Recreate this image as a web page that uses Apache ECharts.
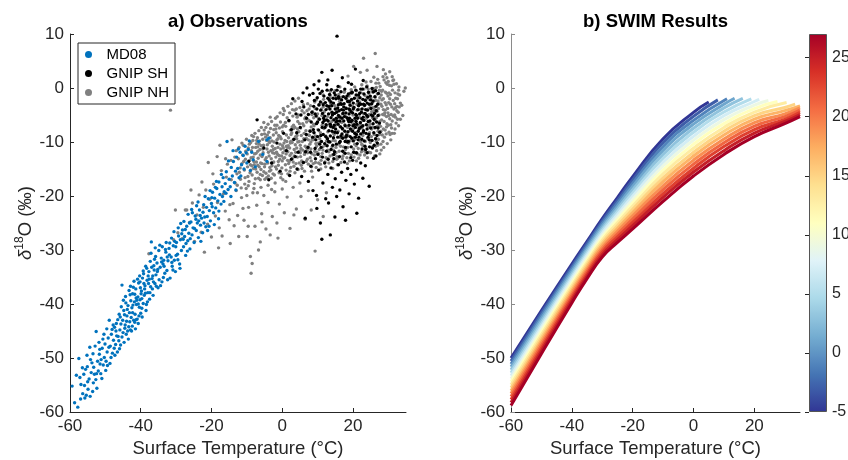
<!DOCTYPE html>
<html><head><meta charset="utf-8">
<script src="https://cdn.jsdelivr.net/npm/echarts@6/dist/echarts.min.js"></script>
<style>html,body{margin:0;padding:0;background:#fff}#c{width:848px;height:460px}</style>
</head><body><div id="c"></div>
<script>
// ---------- DATA ----------
const md08 = [[-59.4,-55.2],[-58.7,-58.3],[-57.8,-59.1],[-57.5,-50.1],[-58.2,-53.2],[-57.2,-53.6],[-56.9,-54.9],[-56.4,-56.6],[-55.8,-57.4],[-55.4,-56.9],[-55.9,-55.1],[-55.6,-52.1],[-55.1,-51.6],[-54.6,-53.9],[-54.9,-55.8],[-54.3,-57.1],[-54.0,-52.7],[-53.8,-50.9],[-53.4,-54.6],[-53.1,-53.0],[-52.9,-47.8],[-52.6,-45.1],[-52.2,-50.6],[-52.0,-52.4],[-51.7,-49.3],[-51.5,-51.1],[-51.2,-50.3],[-50.9,-48.2],[-50.6,-51.3],[-50.3,-49.9],[-50.1,-47.4],[-49.8,-50.6],[-49.5,-48.9],[-49.2,-46.3],[-48.9,-43.0],[-48.6,-47.8],[-48.3,-45.6],[-48.0,-49.1],[-47.7,-46.7],[-47.4,-44.3],[-47.1,-47.5],[-46.8,-45.9],[-46.5,-42.9],[-46.2,-46.8],[-45.9,-44.8],[-45.6,-43.7],[-45.3,-46.1],[-45.0,-45.3],[-44.8,-41.2],[-44.5,-44.5],[-44.2,-39.8],[-44.0,-43.2],[-43.7,-45.0],[-43.4,-44.2],[-43.2,-41.6],[-43.0,-38.3],[-42.7,-42.5],[-42.5,-40.7],[-42.3,-38.1],[-42.0,-43.0],[-41.8,-39.6],[-41.6,-41.9],[-41.4,-37.2],[-41.2,-40.1],[-41.0,-42.8],[-40.8,-38.7],[-40.6,-36.1],[-40.4,-40.6],[-40.2,-39.2],[-40.0,-41.7],[-39.8,-37.6],[-39.5,-35.2],[-39.3,-39.9],[-39.0,-38.4],[-38.8,-36.6],[-38.5,-41.2],[-38.2,-35.6],[-38.0,-37.9],[-37.7,-34.0],[-37.5,-39.1],[-37.2,-36.8],[-37.0,-28.5],[-36.8,-35.3],[-36.5,-38.4],[-36.2,-33.7],[-36.0,-36.2],[-35.7,-34.6],[-35.4,-32.4],[-35.1,-37.0],[-34.8,-35.5],[-34.5,-33.2],[-34.2,-31.5],[-34.0,-35.9],[-33.7,-32.6],[-33.5,-31.9],[-33.2,-34.3],[-32.9,-30.4],[-32.6,-33.8],[-32.3,-32.0],[-32.0,-29.7],[-31.7,-35.2],[-31.4,-31.3],[-31.1,-33.0],[-30.8,-29.2],[-30.5,-31.9],[-30.2,-34.0],[-29.9,-28.6],[-29.6,-30.8],[-29.3,-27.4],[-29.0,-32.6],[-28.8,-28.1],[-28.5,-30.1],[-28.2,-26.3],[-27.9,-29.4],[-27.6,-27.5],[-27.3,-31.0],[-27.0,-25.6],[-26.7,-28.3],[-26.4,-26.9],[-26.1,-29.8],[-25.8,-24.8],[-25.5,-27.2],[-25.2,-25.9],[-24.9,-28.6],[-24.6,-23.7],[-24.3,-26.4],[-24.0,-25.0],[-23.7,-27.7],[-23.4,-22.6],[-23.1,-25.4],[-22.8,-24.1],[-22.5,-26.8],[-22.2,-21.6],[-21.9,-23.9],[-21.6,-25.7],[-21.2,-23.8],[-20.9,-20.5],[-20.6,-22.7],[-20.3,-24.6],[-20.0,-21.4],[-19.7,-19.3],[-19.4,-23.1],[-19.1,-20.4],[-18.8,-22.2],[-18.5,-18.6],[-18.2,-20.9],[-17.9,-17.4],[-17.6,-19.7],[-17.3,-21.5],[-17.0,-18.3],[-16.7,-16.6],[-16.4,-19.2],[-16.1,-17.7],[-15.8,-15.5],[-15.6,-9.9],[-15.3,-18.8],[-15.0,-16.9],[-14.7,-18.3],[-14.4,-14.7],[-14.1,-16.3],[-13.8,-13.6],[-13.5,-17.5],[-13.2,-15.4],[-12.9,-12.8],[-12.6,-14.9],[-12.2,-16.6],[-11.9,-11.9],[-11.5,-14.2],[-11.0,-12.5],[-10.5,-10.8],[-10.0,-13.9],[-9.6,-11.4],[-9.0,-15.3],[-8.2,-13.3],[-7.6,-14.6],[-6.7,-9.9],[-4.3,-13.6],[-3.8,-9.3],[-4.3,-9.6],
[-44.6,-42.0],[-44.1,-45.6],[-43.6,-40.3],[-43.1,-43.3],[-42.8,-39.4],[-42.4,-44.1],[-42.1,-36.9],[-41.7,-43.4],[-41.3,-38.9],[-40.9,-35.4],[-40.5,-42.2],[-40.1,-37.0],[-39.7,-40.8],[-39.2,-34.4],[-38.7,-38.0],[-38.3,-33.4],[-37.8,-36.2],[-37.3,-32.1],[-36.6,-34.8],[-36.1,-31.7],[-35.6,-36.7],[-45.3,-36.5],[-46.0,-48.3],[-47.3,-49.5],[-48.7,-51.0],[-49.9,-52.3],[-51.0,-53.8],[-52.4,-55.6],[-53.6,-56.2],[-45.7,-47.6],
[-56.5,-51.8],[-55.2,-49.5],[-54.4,-48.0],[-53.3,-51.7],[-52.7,-54.0],[-51.8,-47.1],[-51.3,-52.9],[-50.4,-45.6],[-49.6,-44.6],[-49.0,-48.0],[-48.4,-49.9],[-47.8,-43.9],[-47.0,-45.0],[-46.6,-48.9],[-46.1,-41.9],[-45.5,-40.5],[-45.1,-43.0],[-44.7,-47.1],[-44.3,-38.6],[-43.9,-42.2],[-43.5,-46.5],[-42.9,-36.7],[-42.6,-45.0],[-42.2,-40.2],[-41.9,-35.8],[-41.5,-44.6],[-41.1,-39.3],[-40.7,-43.6],[-40.3,-34.8],[-39.9,-38.1],[-39.6,-42.4],[-39.1,-36.2],[-38.6,-33.0],[-38.1,-39.6],[-37.6,-35.4],[-37.1,-30.6],[-36.7,-37.2],[-36.3,-32.9],[-35.9,-29.6],[-35.3,-34.0],[-34.9,-30.1],[-34.4,-36.6],[-33.9,-29.4],[-33.4,-33.0],[-32.8,-28.6],[-32.4,-35.5],[-31.9,-30.9],[-31.3,-27.8],[-30.9,-33.7],[-30.4,-28.4],[-30.0,-31.0],[-29.4,-25.9],[-28.9,-33.4],[-28.4,-27.0],[-27.8,-24.7],[-27.2,-28.8],[-26.6,-23.4],[-26.0,-27.9],[-25.4,-23.1],[-24.8,-26.0],[-24.2,-21.8],[-23.6,-24.6],[-23.0,-28.4],[-22.4,-23.0],[-21.8,-20.1],[-21.1,-26.4],[-20.4,-19.0],[-19.8,-22.0],[-19.2,-25.3],[-18.6,-17.3],[-17.9,-22.8],[-17.2,-16.0],[-16.5,-21.0],[-15.9,-19.5],[-15.2,-13.5],[-14.5,-20.1],[-13.9,-11.6],[-13.1,-18.9],[-12.4,-11.3],[-11.7,-16.3],[-10.8,-15.0],[-10.2,-12.0],[-9.3,-9.8],[-8.6,-11.9],[-5.5,-12.3],
[-57.0,-57.6],[-56.1,-53.0],[-55.0,-54.4],[-54.2,-50.3],[-53.5,-49.2],[-52.5,-52.9],[-51.6,-48.4],[-50.7,-46.5],[-49.4,-51.4],[-48.1,-44.7],[-47.5,-48.2],[-46.9,-43.6],[-46.4,-46.0],[-45.8,-42.4],[-44.9,-39.3],[-44.4,-43.9],[-43.8,-41.0],[-43.3,-37.5],[-42.9,-44.8],[-42.3,-41.6],[-41.7,-38.2],[-41.3,-42.9],[-40.7,-40.0],[-40.2,-35.9],[-39.7,-39.0],[-39.3,-33.9],[-38.9,-37.2],[-38.4,-40.1],[-37.9,-34.8],[-37.4,-37.9],[-36.9,-33.2],[-36.4,-35.9],[-35.8,-31.2],[-35.2,-33.6],[-34.6,-29.1],[-34.1,-32.2],[-33.6,-35.1],[-33.0,-29.9],[-32.5,-31.3],[-31.8,-28.7],[-31.2,-32.3],[-30.6,-26.6],[-30.1,-29.4],[-29.5,-31.8],[-28.7,-25.1],[-28.0,-28.0],[-27.4,-26.2],[-26.8,-30.2],[-26.2,-25.0],[-25.6,-22.5],[-24.4,-24.3],[-23.8,-21.1],[-23.2,-23.6],[-22.1,-25.0],[-21.4,-22.1],[-20.7,-25.6],[-19.9,-20.3],[-18.9,-18.4],[-18.0,-24.2],[-16.9,-20.1]];

const gnipSH = [[8.2,-6.3],[8.6,-9.1],[8.9,-3.4],[9.3,-11.2],[9.6,-5.2],[9.9,-1.8],[10.3,-7.8],[10.6,-10.4],[10.9,-4.1],[11.3,-0.6],[11.6,-8.6],[11.9,-6.0],[12.2,-2.7],[12.5,-11.7],[12.8,-9.4],[13.1,-4.8],[13.4,-1.2],[13.7,-7.1],[14.0,-3.3],[14.3,-10.6],[14.6,-5.9],[14.9,-8.2],[15.2,-2.0],[15.5,-0.4],[15.8,-6.7],[16.1,-4.2],[16.4,-9.9],[16.7,-3.0],[17.0,-7.5],[17.3,-1.6],[17.6,-5.3],[17.9,-11.0],[18.2,-8.8],[18.5,-2.5],[18.8,-6.2],[19.1,-4.0],[19.4,-0.9],[19.7,-9.3],[20.0,-7.0],[20.3,-3.6],[20.6,-5.6],[20.9,-1.3],[21.2,-10.3],[21.5,-8.0],[21.8,-2.9],[22.1,-6.4],[22.4,-4.5],[22.7,-0.2],[23.0,-7.9],[23.3,-3.2],[23.6,-11.4],[23.9,-5.1],[24.2,-1.7],[24.5,-8.6],[24.8,-6.1],[25.1,-3.8],[25.4,-9.7],[25.7,-2.4],[26.0,-5.8],[26.3,-7.3],[26.6,-4.2],[26.9,-10.2],[27.2,-1.0],[27.5,-6.5],
[8.4,-4.5],[8.8,-7.7],[9.1,-2.3],[9.5,-9.6],[9.8,-3.9],[10.1,-12.3],[10.5,-5.8],[10.8,-2.6],[11.1,-9.9],[11.4,-4.7],[11.8,-1.5],[12.1,-7.3],[12.4,-4.0],[12.7,-10.7],[13.0,-6.1],[13.3,-2.2],[13.6,-8.9],[13.9,-0.3],[14.2,-5.0],[14.5,-2.8],[14.8,-11.8],[15.1,-7.6],[15.4,-4.5],[15.7,-9.1],[16.0,-1.9],[16.3,-6.1],[16.6,-0.7],[16.9,-8.5],[17.2,-4.7],[17.5,-2.9],[17.8,-7.0],[18.1,-3.8],[18.4,-10.0],[18.7,-1.1],[19.0,-5.6],[19.3,-7.6],[19.6,-2.1],[19.9,-4.6],[20.2,-11.9],[20.5,-8.4],[20.8,-0.4],[21.1,-6.7],[21.4,-4.0],[21.7,-9.1],[22.0,-1.8],[22.3,-7.2],[22.6,-3.9],[22.9,-5.4],[23.2,-9.8],[23.5,-2.3],[23.8,-6.8],[24.1,-4.1],[24.4,-0.8],[24.7,-10.9],[25.0,-7.4],[25.3,-2.9],[25.6,-5.2],[25.9,-8.3],[26.2,-1.6],[26.5,-3.4],[26.8,-8.8],[27.1,-5.1],
[12.0,-5.2],[12.6,-3.3],[13.2,-7.9],[13.8,-5.5],[14.4,-1.9],[15.0,-3.9],[15.6,-8.3],[16.2,-5.4],[16.8,-2.2],[17.4,-6.1],[18.0,-4.6],[18.6,-8.1],[19.2,-3.2],[19.8,-6.0],[20.4,-1.9],[21.0,-5.1],[21.6,-3.3],[22.2,-8.5],[22.8,-2.1],[23.4,-4.7],[24.0,-7.6],[24.6,-3.0],[13.5,-3.9],[14.7,-6.9],[15.9,-3.1],[17.1,-9.3],[18.3,-5.5],[19.5,-4.4],[20.7,-7.3],[21.9,-4.8],[23.1,-6.0],[16.5,-7.2],[17.7,-0.2],[19.0,-2.5],[20.1,-9.8],[21.3,-2.4],[14.1,-8.0],[15.3,-5.6],[22.5,-5.7],[18.9,-6.9],
[0.4,-8.4],[1.2,-11.6],[1.9,-6.0],[2.6,-13.2],[3.3,-9.5],[3.9,-4.8],[4.5,-11.9],[5.1,-7.3],[5.6,-2.5],[6.0,-13.8],[6.4,-9.6],[6.9,-5.6],[7.3,-11.0],[7.7,-1.3],[7.9,-8.0],[3.0,-2.0],[5.9,-0.9],[7.0,0.0],[10.4,1.3],[11.2,2.9],[14.1,3.3],[20.7,3.5],[15.5,9.6],[12.9,1.5],[17.0,1.9],[18.7,1.0],[22.9,1.4],[9.0,0.6],[-1.5,-10.2],[-3.0,-13.9],[-5.2,-11.1],[-7.1,-5.9],[-9.5,-13.6],[-3.8,-17.0],[-0.6,-15.4],[2.1,-16.2],[4.2,-15.0],
[5.5,-16.4],[6.5,-24.1],[7.4,-17.3],[8.1,-14.5],[8.7,-19.0],[9.7,-19.9],[9.8,-22.3],[10.3,-15.2],[10.8,-25.0],[11.2,-28.0],[11.5,-17.6],[12.0,-13.9],[12.3,-20.5],[12.9,-16.0],[13.1,-21.3],[13.6,-27.2],[13.8,-14.8],[14.2,-18.4],[14.6,-13.1],[15.0,-16.8],[15.4,-20.1],[15.9,-14.2],[16.3,-18.9],[16.8,-15.6],[17.2,-22.0],[17.6,-13.7],[18.0,-17.1],[18.5,-14.9],[18.9,-19.6],[19.4,-16.0],[19.9,-13.4],[20.4,-17.8],[21.0,-15.2],[21.6,-20.4],[22.2,-13.9],[22.8,-16.7],[23.5,-14.4],[24.0,-12.0],[25.8,-13.0],[24.6,-18.2],[26.5,-12.6],[14.9,-23.9],[17.9,-24.5],[21.1,-23.2],
[9.0,-8.3],[9.7,-6.6],[10.4,-3.1],[11.0,-11.0],[11.7,-5.6],[12.3,-9.0],[12.9,-1.9],[13.5,-10.0],[14.1,-4.5],[14.7,-0.9],[15.3,-10.4],[15.9,-5.1],[16.5,-2.9],[17.1,-11.7],[17.7,-8.0],[18.3,-1.5],[18.9,-4.8],[19.5,-10.9],[20.1,-3.9],[20.7,-9.1],[21.3,-5.6],[21.9,-0.9],[22.5,-9.5],[23.1,-1.1],[23.7,-8.4],[24.3,-6.2],[24.9,-1.5],[25.5,-11.1],[26.1,-4.7],[26.7,-6.3],
[10.0,-9.0],[10.7,-1.0],[11.3,-7.3],[12.0,-10.3],[12.6,-5.9],[13.2,-3.4],[13.8,-11.4],[14.4,-7.3],[15.0,-1.3],[15.6,-6.1],[16.2,-10.1],[16.8,-4.0],[17.4,-3.5],[18.0,-9.1],[18.6,-5.9],[19.2,-9.0],[19.8,-0.8],[20.4,-6.8],[21.0,-8.6],[21.6,-1.3],[22.2,-3.0],[22.8,-7.0],[23.4,-10.8],[24.0,-2.8],[24.6,-9.6],[25.2,-5.0],[25.8,-0.7],[26.4,-9.4],[27.0,-3.0],[27.6,-8.2],
[11.4,-12.8],[13.0,-13.2],[14.6,-12.3],[16.2,-12.7],[17.8,-12.1],[19.4,-12.9],[21.0,-12.0],[22.6,-11.3],[9.4,-13.1],[8.0,-11.9],[6.8,-8.6],[6.1,-3.5],[5.3,-5.0],[4.1,-8.3],[2.6,-7.7],[7.4,-4.9],[10.2,-0.2],[12.6,0.6],[15.8,0.3],[19.6,0.7],[23.9,0.2],[25.4,-0.1],[8.7,-1.0],[6.6,-11.8],[3.7,-12.7],
[9.3,-4.8],[10.0,-6.3],[10.9,-8.8],[11.6,-3.1],[12.4,-6.8],[13.1,-9.9],[13.8,-2.6],[14.5,-9.2],[15.2,-6.3],[15.9,-1.6],[16.6,-8.9],[17.3,-4.1],[18.0,-1.9],[18.7,-9.9],[19.4,-6.2],[20.1,-2.8],[20.8,-4.9],[21.5,-9.6],[22.2,-0.2],[22.9,-8.2],[23.6,-4.0],[24.3,-9.1],[25.0,-2.2],[25.7,-6.6],[26.4,-0.5],[27.1,-7.4],[12.7,-0.4],[14.8,-4.7],[16.9,-5.6],[18.9,-3.9],[20.9,-6.2],[23.0,-3.0],[11.5,-6.4],[13.6,-6.7],[15.7,-3.7],[17.8,-9.9],[19.9,-8.0],[21.8,-7.5],[24.2,-5.3],[26.0,-10.6]];

const gnipNH = [[-37.7,-30.7],[-31.6,-4.1],[-30.7,-28.1],[-30.2,-22.6],[-29.5,-26.8],[-28.3,-27.9],[-27.4,-22.6],[-27.0,-22.6],[-26.2,-24.9],[-25.4,-21.3],[-24.8,-28.4],[-24.1,-23.5],[-23.5,-19.8],[-22.9,-26.7],[-22.3,-22.1],[-21.6,-18.9],[-21.1,-25.2],[-20.5,-20.6],[-20.0,-27.6],[-19.4,-17.8],[-18.9,-23.7],[-18.4,-12.7],[-18.3,-21.2],[-17.8,-25.9],[-17.0,-27.4],[-17.2,-15.3],[-16.6,-19.6],[-16.1,-22.8],[-15.5,-14.1],[-15.0,-24.4],[-14.7,-28.8],[-14.4,-17.0],[-14.2,-9.6],[-13.9,-21.4],[-13.4,-12.8],[-13.0,-19.0],[-12.6,-23.6],[-12.3,-27.5],[-12.1,-15.6],[-11.4,-10.2],
[-11.5,-20.3],[-10.8,-24.5],[-10.2,-18.6],[-9.9,-27.5],[-9.5,-22.1],[-9.0,-31.2],[-8.8,-34.3],[-8.5,-32.5],[-8.3,-19.4],[-7.7,-25.6],[-7.2,-21.7],[-6.7,-30.0],[-6.2,-28.5],[-5.8,-23.3],[-5.2,-19.9],[-4.6,-26.1],[-4.0,-21.2],[-3.4,-27.2],[-2.8,-23.8],[-2.1,-19.2],[-1.5,-25.0],[-0.8,-21.5],[0.0,-18.7],[0.6,-23.1],[1.4,-20.2],[2.2,-26.0],[3.1,-18.4],[4.0,-22.4],[5.3,-20.1],[6.5,-24.3],[7.4,-19.0],[9.3,-30.2],[8.2,-22.6],[10.0,-20.7],[12.5,-19.4],[11.6,-23.8],
[-12.4,-13.1],[-11.8,-16.9],[-12.2,-11.0],[-11.6,-18.5],
[-11.2,-12.4],[-10.7,-15.2],[-11.0,-10.6],[-10.6,-17.8],[-11.4,-14.0],
[-10.3,-11.7],[-9.8,-14.6],[-10.1,-9.5],[-9.7,-16.4],[-10.4,-13.2],[-9.6,-18.1],
[-9.3,-10.4],[-8.8,-12.9],[-9.1,-15.7],[-8.6,-8.8],[-9.4,-17.3],[-8.7,-11.6],[-9.0,-14.2],
[-8.3,-9.7],[-7.8,-12.2],[-8.1,-14.9],[-7.6,-16.8],[-8.4,-11.0],[-7.7,-8.4],[-8.0,-13.6],[-7.9,-17.7],
[-7.3,-10.3],[-6.8,-13.0],[-7.1,-15.6],[-6.6,-7.9],[-7.4,-12.1],[-6.7,-16.7],[-7.0,-9.2],[-6.9,-14.3],
[-6.3,-11.4],[-5.8,-8.6],[-6.1,-13.9],[-5.6,-16.2],[-6.4,-9.8],[-5.7,-12.7],[-6.0,-15.1],[-5.9,-7.3],[-6.2,-17.0],
[-5.3,-10.6],[-4.8,-13.3],[-5.1,-7.8],[-4.6,-15.8],[-5.4,-12.0],[-4.7,-9.1],[-5.0,-14.6],[-4.9,-16.9],[-5.2,-6.4],
[-4.3,-11.3],[-3.8,-8.2],[-4.1,-13.9],[-3.6,-15.4],[-4.4,-9.7],[-3.7,-12.6],[-4.0,-6.7],[-3.9,-16.3],[-4.2,-10.5],[-3.5,-14.7],
[-3.3,-7.5],[-2.8,-10.8],[-3.1,-13.1],[-2.6,-15.9],[-3.4,-9.2],[-2.7,-12.0],[-3.0,-6.2],[-2.9,-14.4],[-3.2,-11.6],[-2.5,-8.7],
[-2.3,-10.0],[-1.8,-12.8],[-2.1,-6.9],[-1.6,-15.0],[-2.4,-13.7],[-1.7,-8.3],[-2.0,-11.2],[-1.9,-5.6],[-2.2,-16.1],[-1.5,-9.6],
[-1.3,-12.3],[-0.8,-7.4],[-1.1,-14.3],[-0.6,-10.4],[-1.4,-5.3],[-0.7,-13.2],[-1.0,-8.8],[-0.9,-15.7],[-1.2,-11.0],[-0.5,-6.3],
[-0.3,-9.4],[0.2,-12.0],[-0.1,-14.8],[0.4,-6.9],[-0.4,-11.3],[0.3,-4.9],[0.0,-13.5],[0.1,-8.1],[-0.2,-15.9],[0.5,-10.2],[0.0,-7.2],
[0.8,-11.6],[1.2,-8.7],[0.9,-14.2],[1.4,-5.5],[0.7,-12.9],[1.3,-9.9],[1.0,-7.1],[1.1,-15.2],[0.6,-4.2],[1.5,-13.4],[1.2,-10.8],
[1.8,-9.2],[2.2,-12.5],[1.9,-6.1],[2.4,-14.7],[1.7,-10.7],[2.3,-7.8],[2.0,-13.6],[2.1,-4.6],[1.6,-11.8],[2.5,-8.6],[2.2,-15.4],
[2.8,-10.1],[3.2,-6.9],[2.9,-13.0],[3.4,-11.4],[2.7,-8.3],[3.3,-14.5],[3.0,-5.2],[3.1,-9.6],[2.6,-12.1],[3.5,-4.1],[3.2,-7.5],
[3.8,-11.9],[4.2,-8.8],[3.9,-14.0],[4.4,-6.2],[3.7,-10.5],[4.3,-12.8],[4.0,-3.9],[4.1,-9.4],[3.6,-7.3],[4.5,-15.1],[4.2,-5.4],
[4.8,-9.9],[5.2,-12.7],[4.9,-6.6],[5.4,-14.3],[4.7,-8.1],[5.3,-11.2],[5.0,-3.6],[5.1,-10.6],[4.6,-5.0],[5.5,-13.5],[5.2,-7.4],
[5.8,-11.5],[6.2,-8.4],[5.9,-13.8],[6.4,-5.7],[5.7,-9.9],[6.3,-12.3],[6.0,-3.1],[6.1,-7.0],[5.6,-14.9],[6.5,-10.8],[6.2,-4.6],
[6.8,-9.3],[7.2,-12.0],[6.9,-6.3],[7.4,-14.1],[6.7,-7.9],[7.3,-10.9],[7.0,-4.2],[7.1,-13.2],[6.6,-5.4],[7.5,-8.7],[7.2,-2.9],
[7.8,-10.4],[8.2,-7.2],[7.9,-12.9],[8.4,-4.9],[7.7,-8.8],[8.3,-14.6],[8.0,-3.3],[8.1,-11.3],[7.6,-6.0],[8.5,-9.5],[8.2,-13.5],
[8.8,-8.1],[9.2,-11.7],[8.9,-5.5],[9.4,-13.8],[8.7,-9.6],[9.3,-3.8],[9.0,-7.0],[9.1,-12.4],[8.6,-4.4],[9.5,-10.3],[9.2,-2.6],
[9.8,-9.0],[10.2,-12.1],[9.9,-6.4],[10.4,-3.2],[9.7,-10.8],[10.3,-13.9],[10.0,-4.8],[10.1,-7.7],[9.6,-2.2],[10.5,-11.4],
[10.8,-8.3],[11.2,-5.1],[10.9,-12.7],[11.4,-2.8],[10.7,-10.1],[11.3,-6.9],[11.0,-13.4],[11.1,-3.9],[10.6,-9.4],[11.5,-11.5],
[11.8,-7.5],[12.2,-10.6],[11.9,-4.4],[12.4,-12.9],[11.7,-2.1],[12.3,-8.9],[12.0,-6.0],[12.1,-13.7],[11.6,-3.5],[12.5,-9.8],
[12.8,-5.3],[13.2,-11.8],[12.9,-8.1],[13.4,-2.4],[12.7,-13.1],[13.3,-6.7],[13.0,-10.0],[13.1,-3.7],[12.6,-9.2],[13.5,-1.8],
[13.8,-7.2],[14.2,-12.4],[13.9,-4.6],[14.4,-9.7],[13.7,-2.9],[14.3,-13.6],[14.0,-6.2],[14.1,-10.9],[13.6,-1.4],[14.5,-8.4],
[14.8,-5.8],[15.2,-11.0],[14.9,-3.3],[15.4,-13.2],[14.7,-8.6],[15.3,-1.9],[15.0,-9.8],[15.1,-6.9],[14.6,-12.3],[15.5,-4.2],
[15.8,-8.0],[16.2,-2.5],[15.9,-10.4],[16.4,-5.3],[15.7,-13.0],[16.3,-7.1],[16.0,-1.2],[16.1,-11.7],[15.6,-4.0],[16.5,-9.2],
[16.8,-6.4],[17.2,-12.6],[16.9,-3.0],[17.4,-9.0],[16.7,-1.7],[17.3,-10.9],[17.0,-4.8],[17.1,-7.7],[16.6,-13.8],[17.5,-0.8],
[17.8,-5.1],[18.2,-8.5],[17.9,-11.4],[18.4,-2.2],[17.7,-6.8],[18.3,-12.9],[18.0,-3.7],[18.1,-9.7],[17.6,-0.6],[18.5,-7.3],
[18.8,-10.2],[19.2,-4.3],[18.9,-1.5],[19.4,-7.9],[18.7,-12.1],[19.3,-5.8],[19.0,-13.5],[19.1,-2.9],[18.6,-8.8],[19.5,-0.3],
[19.8,-6.5],[20.2,-11.3],[19.9,-3.4],[20.4,-9.1],[19.7,-1.0],[20.3,-12.8],[20.0,-5.0],[20.1,-7.6],[19.6,-2.3],[20.5,0.2],
[20.8,-8.3],[21.2,-4.1],[20.9,-10.7],[21.4,-1.8],[20.7,-6.1],[21.3,-12.2],[21.0,-0.5],[21.1,-3.0],[20.6,-9.5],[21.5,-7.0],
[21.8,-5.4],[22.2,-9.9],[21.9,-2.6],[22.4,-11.8],[21.7,-7.7],[22.3,-0.9],[22.0,-4.0],[22.1,-6.6],[21.6,-13.0],[22.5,0.6],
[22.8,-8.8],[23.2,-3.3],[22.9,-6.0],[23.4,-1.4],[22.7,-10.6],[23.3,-12.4],[23.0,-4.7],[23.1,-0.2],[22.6,-7.4],[23.5,-2.2],
[23.8,-5.6],[24.2,-9.3],[23.9,-2.0],[24.4,-7.1],[23.7,-11.2],[24.3,-3.9],[24.0,0.4],[24.1,-12.9],[23.6,-4.8],[24.5,-1.0],
[24.8,-6.7],[25.2,-3.0],[24.9,-10.1],[25.4,-0.6],[24.7,-8.3],[25.3,-4.4],[25.0,-12.0],[25.1,1.2],[24.6,-2.1],[25.5,-5.5],[25.2,-9.0],
[25.8,-3.6],[26.2,-7.4],[25.9,-0.1],[26.4,-10.8],[25.7,-5.1],[26.3,-1.7],[26.0,-8.6],[26.1,-12.6],[25.6,-2.6],[26.5,0.9],[26.2,-6.0],
[26.8,-4.3],[27.2,-9.5],[26.9,-1.1],[27.4,-6.8],[26.7,-11.6],[27.3,-2.9],[27.0,1.6],[27.1,-8.0],[26.6,-5.5],[27.5,-0.4],[27.2,-3.8],
[27.8,-7.1],[28.2,-2.2],[27.9,-10.4],[28.4,-4.9],[27.7,0.3],[28.3,-8.7],[28.0,-1.3],[28.1,-5.9],[27.6,-12.2],[28.5,2.1],[28.2,-3.4],
[28.8,-6.2],[29.2,-0.8],[28.9,-9.1],[29.4,-3.1],[28.7,-11.0],[29.3,1.0],[29.0,-4.6],[29.1,-7.8],[28.6,-2.0],[29.5,-5.3],[29.2,2.6],
[29.8,-3.8],[30.2,-8.2],[29.9,-1.5],[30.4,-5.7],[29.7,-10.3],[30.3,0.5],[30.0,-6.9],[30.1,-2.7],[29.6,1.9],
[30.8,-4.9],[31.2,-0.4],[30.9,-7.4],[31.4,-2.3],[30.7,-9.6],[31.3,1.4],[31.0,-3.5],[31.1,-6.1],[30.6,-1.2],
[31.8,-2.9],[32.2,-6.5],[31.9,-0.9],[32.4,-4.2],[31.7,-8.4],[32.3,0.8],[32.0,-5.4],[32.1,-1.9],
[32.8,-4.5],[33.2,-1.3],[32.9,-7.0],[33.4,-2.8],[33.0,0.2],
[33.8,-3.2],[34.4,-0.6],[34.8,0.0],[34.1,-5.1],
[26.3,6.4],[23.0,5.5],[20.2,4.0],[26.8,4.0],[24.0,3.3],[22.1,2.9],[28.6,3.4],[30.4,3.0],[18.6,2.2],[31.5,1.5],
[-9.2,-13.4],[-8.5,-16.1],[-7.5,-11.0],[-6.5,-14.6],[-5.5,-9.5],[-4.5,-12.9],[-3.6,-10.1],[-2.6,-13.8],[-1.6,-11.9],[-0.6,-9.0],[0.4,-13.0],[1.4,-11.0],[2.4,-9.9],[3.4,-12.6],[4.4,-10.0],[5.4,-8.8],[6.4,-11.9],[7.4,-9.6],[8.4,-12.2],[9.4,-8.9],
[-8.9,-10.1],[-7.9,-14.2],[-6.9,-11.7],[-5.9,-10.7],[-4.9,-14.1],[-3.9,-11.9],[-2.9,-9.8],[-1.9,-14.6],[-0.9,-12.5],[0.1,-10.7],[1.1,-12.2],[2.1,-11.1],[3.1,-13.7],[4.1,-11.1],[5.1,-12.0],[6.1,-9.4],[7.1,-11.5],[8.1,-10.0],[9.1,-9.2],[10.1,-10.2],
[-8.2,-12.8],[-7.2,-9.7],[-6.2,-12.4],[-5.2,-15.5],[-4.2,-8.7],[-3.2,-15.2],[-2.2,-12.1],[-1.2,-9.4],[-0.2,-12.6],[0.8,-9.7],[1.8,-14.0],[2.8,-7.2],[3.8,-9.0],[4.8,-13.9],[5.8,-6.6],[6.8,-13.6],[7.8,-7.9],[8.8,-14.0],[9.8,-11.9],[10.8,-14.1],
[11.5,-10.9],[12.5,-7.0],[13.5,-12.6],[14.5,-11.5],[15.5,-12.7],[16.5,-10.8],[17.5,-12.0],[18.5,-11.0],[19.5,-12.4],[20.5,-10.4],[21.5,-11.2],[22.5,-10.4],[23.5,-9.9],[24.5,-11.9],[25.5,-10.9],[26.5,-9.4],[27.5,-8.6],[28.5,-9.9],[29.5,-7.2],[30.5,-8.6],
[25.3,-7.6],[25.9,-4.3],[26.4,-2.3],[26.9,-7.1],[27.4,-5.0],[27.9,-3.0],[28.4,-0.4],[28.9,-5.0],[29.4,-8.5],[29.9,-4.6],[30.4,-2.0],[30.9,0.4],[31.4,-5.2],[31.9,-7.6],[32.4,-3.4],[32.9,-0.4],[33.4,-5.8],[30.2,-0.9],[31.6,-3.9],[29.1,-2.7],
[27.6,-1.8],[26.6,0.1],[25.6,-0.8],[24.6,-4.9],[28.6,-4.0],[29.7,0.7],[31.1,2.1],[32.6,-2.0],[27.0,-10.6],[28.0,-11.5],
[-11.9,-14.8],[-10.9,-13.6],[-9.9,-12.2],[-12.8,-15.9],[-13.3,-17.6],[-10.5,-16.6],[-8.6,-14.4],[-7.3,-13.7],[-6.5,-10.4],[-5.5,-11.3],[-4.6,-7.3],[-3.4,-5.4],[-2.4,-7.7],[-1.5,-6.9],[-0.6,-4.6],[0.3,-3.8],[1.6,-3.4],[2.6,-2.9],[3.6,-2.4],[4.6,-1.9],
[-16.0,-13.1],[-19.6,-15.9],[-22.7,-17.4],[-25.8,-18.9],[-17.6,-10.6],[-20.9,-13.8],[-14.8,-21.6],[-11.1,-22.3],[-7.0,-19.4],[-3.0,-18.8],[1.0,-17.3],[5.0,-17.6],[8.6,-16.5],[-5.7,-24.8],[-1.2,-27.8],[3.3,-23.5],[-9.6,-25.6],[-13.6,-25.5],[-18.0,-29.6],[-22.0,-30.4],
[-9.6,-11.1],[-8.9,-15.2],[-8.1,-9.0],[-7.5,-15.0],[-6.9,-10.9],[-6.2,-16.0],[-5.7,-14.0],[-5.0,-8.5],[-4.4,-16.6],[-3.7,-9.9],[-3.1,-16.7],[-2.5,-11.4],[-1.8,-7.6],[-1.1,-13.6],[-0.4,-16.6],[0.3,-11.1],[0.9,-6.4],[1.6,-15.9],[2.3,-10.2],[2.9,-4.0],[3.6,-15.7],[4.3,-7.6],[4.9,-11.7],[5.6,-4.2],[6.3,-15.4],[6.9,-11.1],[7.6,-3.9],[8.3,-15.4],[8.9,-6.7],[9.6,-14.7],[10.3,-5.6],[10.9,-15.0],[11.6,-1.3],[12.3,-14.6],[12.9,-11.5],[13.6,-0.6],[14.3,-14.9],[14.9,-0.5],[15.6,-14.2],[16.3,0.2],
[25.1,-1.8],[25.6,-7.2],[26.1,-4.0],[26.6,-9.9],[27.1,-2.4],[27.6,-6.2],[28.1,-0.6],[28.6,-7.6],[29.1,-4.1],[29.6,-1.0],[30.1,-5.1],[30.6,-3.0],[31.1,-8.4],[31.6,0.7],[32.1,-3.6],[32.6,-5.8],[33.1,-3.5],[25.9,2.0],[27.3,0.9],[28.8,1.5],[30.0,1.2],[31.8,-5.0],[32.7,-1.1],[26.4,-5.6],[27.9,-8.0],[29.6,-6.6],[30.7,-6.8],[24.9,-3.6],[24.3,-0.2],[23.7,1.1],
[19.2,-9.8],[20.6,-12.0],[22.0,-12.4],[23.4,-11.7],[17.0,-13.1],[15.2,-12.0],[13.2,-13.9],[11.3,-12.1],[18.4,-14.0],[21.0,-13.5],[-13.0,-11.6],[-14.5,-13.4],[-15.8,-16.5],[-12.7,-18.0],[-10.0,-19.9],[-8.0,-18.6],[-6.0,-18.4],[-4.0,-18.0],[-2.0,-17.6],[0.2,-17.0]];

// SWIM model curves: one curve per colour value (swimT), points [temperature, d18O]
const swimT = [-5,-3,-1,1,3,5,7,9,11,13,15,17,19,21,23,25,27];
const swimCurves = [
  [[-60,-50.0],[-50,-41.2],[-40,-32.6],[-35,-28.4],[-30,-24.2],[-25,-20.3],[-20,-16.4],[-10,-9.4],[0,-4.5],[5,-2.6]],
  [[-60,-50.55],[-50,-41.7],[-40,-33.05],[-35,-28.83],[-30,-24.64],[-25,-20.82],[-20,-17.01],[-10,-10.1],[0,-5.25],[8,-2.2]],
  [[-60,-51.1],[-50,-42.2],[-40,-33.5],[-35,-29.26],[-30,-25.09],[-25,-21.34],[-20,-17.61],[-10,-10.85],[0,-6.0],[11,-2.0]],
  [[-60,-51.65],[-50,-42.7],[-40,-33.95],[-35,-29.69],[-30,-25.53],[-25,-21.86],[-20,-18.22],[-10,-11.55],[0,-6.7],[10,-3.0],[13.5,-1.9]],
  [[-60,-52.2],[-50,-43.2],[-40,-34.4],[-35,-30.13],[-30,-25.98],[-25,-22.38],[-20,-18.83],[-10,-12.3],[0,-7.45],[10,-3.7],[16.2,-1.9]],
  [[-60,-52.75],[-50,-43.7],[-40,-34.85],[-35,-30.56],[-30,-26.42],[-25,-22.89],[-20,-19.43],[-10,-13.0],[0,-8.2],[10,-4.45],[19,-2.0]],
  [[-60,-53.3],[-50,-44.2],[-40,-35.3],[-35,-30.99],[-30,-26.86],[-25,-23.41],[-20,-20.04],[-10,-13.75],[0,-8.95],[10,-5.15],[20,-2.5],[21.6,-2.1]],
  [[-60,-53.85],[-50,-44.7],[-40,-35.75],[-35,-31.42],[-30,-27.31],[-25,-23.93],[-20,-20.64],[-10,-14.45],[0,-9.65],[10,-5.85],[20,-3.15],[24.6,-2.3]],
  [[-60,-54.4],[-50,-45.2],[-40,-36.2],[-35,-31.85],[-30,-27.75],[-25,-24.45],[-20,-21.25],[-10,-15.2],[0,-10.4],[10,-6.6],[20,-3.8],[27.6,-2.5]],
  [[-60,-54.95],[-50,-45.7],[-40,-36.65],[-35,-32.28],[-30,-28.19],[-25,-24.97],[-20,-21.86],[-10,-15.9],[0,-11.15],[10,-7.3],[20,-4.45],[30.6,-2.7]],
  [[-60,-55.5],[-50,-46.2],[-40,-37.1],[-35,-32.71],[-30,-28.64],[-25,-25.49],[-20,-22.46],[-10,-16.65],[0,-11.9],[10,-8.0],[20,-5.1],[30,-3.6],[33.4,-3.0]],
  [[-60,-56.05],[-50,-46.7],[-40,-37.55],[-35,-33.14],[-30,-29.08],[-25,-26.01],[-20,-23.07],[-10,-17.35],[0,-12.6],[10,-8.7],[20,-5.75],[30,-4.2],[35,-3.3]],
  [[-60,-56.6],[-50,-47.2],[-40,-38.0],[-35,-33.58],[-30,-29.53],[-25,-26.53],[-20,-23.68],[-10,-18.1],[0,-13.35],[10,-9.45],[20,-6.4],[30,-4.8],[35,-3.7]],
  [[-60,-57.15],[-50,-47.7],[-40,-38.45],[-35,-34.01],[-30,-29.97],[-25,-27.04],[-20,-24.28],[-10,-18.8],[0,-14.1],[10,-10.15],[20,-7.05],[30,-5.3],[35,-4.1]],
  [[-60,-57.7],[-50,-48.2],[-40,-38.9],[-35,-34.44],[-30,-30.41],[-25,-27.56],[-20,-24.89],[-10,-19.55],[0,-14.85],[10,-10.85],[20,-7.7],[30,-5.8],[35,-4.5]],
  [[-60,-58.25],[-50,-48.7],[-40,-39.35],[-35,-34.87],[-30,-30.86],[-25,-28.08],[-20,-25.49],[-10,-20.25],[0,-15.55],[10,-11.6],[20,-8.35],[30,-6.2],[35,-4.9]],
  [[-60,-58.8],[-50,-49.2],[-40,-39.8],[-35,-35.3],[-30,-31.3],[-25,-28.6],[-20,-26.1],[-10,-21.0],[0,-16.3],[10,-12.3],[20,-9.0],[30,-6.6],[35,-5.3]]
];

const xTicks = [-60,-40,-20,0,20];
const yTicks = [-60,-50,-40,-30,-20,-10,0,10];
const cbTicks = [-5,0,5,10,15,20,25];
const cmap = ['#313695','#4575b4','#74add1','#abd9e9','#e0f3f8','#ffffbf','#fee090','#fdae61','#f46d43','#d73027','#a50026'];
const cbMin = -5, cbMax = 27;

// ---------- CHART ----------
const FONT = "'Liberation Sans', Arial, Helvetica, sans-serif";
const AX = '#262626';
const chart = echarts.init(document.getElementById('c'), null, {renderer: 'canvas'});

function xAx(grid) {
  return {
    type: 'value', gridIndex: grid, min: -60, max: 35, interval: 20,
    axisLine: {show: true, onZero: false, lineStyle: {color: AX, width: 1}},
    axisTick: {show: true, inside: true, length: 4, customValues: xTicks, lineStyle: {color: AX}},
    axisLabel: {color: AX, fontSize: 17, fontFamily: FONT, margin: 6, customValues: xTicks},
    splitLine: {show: false},
    name: 'Surface Temperature (°C)', nameLocation: 'middle', nameGap: 27,
    nameTextStyle: {fontSize: 18.5, color: AX, fontFamily: FONT}
  };
}
function yAx(grid, lineColor) {
  return {
    type: 'value', gridIndex: grid, min: -60, max: 10, interval: 10,
    axisLine: {show: true, onZero: false, lineStyle: {color: lineColor, width: 1}},
    axisTick: {show: true, inside: true, length: 4, customValues: yTicks, lineStyle: {color: lineColor}},
    axisLabel: {color: AX, fontSize: 17, fontFamily: FONT, margin: 6, customValues: yTicks},
    splitLine: {show: false},
    name: '{d|δ}{s|18}{n|O (‰)}', nameLocation: 'middle', nameGap: 34,
    nameTextStyle: {
      color: AX, fontFamily: FONT,
      rich: {
        d: {fontSize: 18.5, fontStyle: 'italic', fontFamily: FONT, color: AX, lineHeight: 22, verticalAlign: 'bottom'},
        s: {fontSize: 12, fontFamily: FONT, color: AX, lineHeight: 22, verticalAlign: 'top'},
        n: {fontSize: 18.5, fontFamily: FONT, color: AX, lineHeight: 22, verticalAlign: 'bottom'}
      }
    }
  };
}

const SZ = 3.4;
const series = [];
series.push({name: 'GNIP NH', type: 'scatter', xAxisIndex: 0, yAxisIndex: 0, data: gnipNH,
  symbol: 'circle', symbolSize: SZ, itemStyle: {color: '#808080', opacity: 1}, silent: true});
series.push({name: 'GNIP SH', type: 'scatter', xAxisIndex: 0, yAxisIndex: 0, data: gnipSH,
  symbol: 'circle', symbolSize: SZ, itemStyle: {color: '#000000', opacity: 1}, silent: true});
series.push({name: 'MD08', type: 'scatter', xAxisIndex: 0, yAxisIndex: 0, data: md08,
  symbol: 'circle', symbolSize: SZ, itemStyle: {color: '#0072BD', opacity: 1}, silent: true});

swimCurves.forEach((curve, i) => {
  const col = echarts.color.lerp((swimT[i] - cbMin) / (cbMax - cbMin), cmap);
  series.push({
    type: 'line', xAxisIndex: 1, yAxisIndex: 1, data: curve,
    showSymbol: false, symbol: 'none', smooth: 0.5,
    lineStyle: {width: 3, color: col}, itemStyle: {color: col},
    silent: true, z: 2 + i * 0.01
  });
});

const option = {
  animation: false,
  backgroundColor: '#ffffff',
  textStyle: {fontFamily: FONT},
  grid: [
    {left: 70, top: 34, width: 336, height: 378, outerBoundsMode: 'none', containLabel: false},
    {left: 511, top: 34, width: 289, height: 378, outerBoundsMode: 'none', containLabel: false},
    {left: 809, top: 34, width: 18, height: 378, outerBoundsMode: 'none', containLabel: false}
  ],
  xAxis: [
    xAx(0), xAx(1),
    {type: 'value', gridIndex: 2, min: 0, max: 1, show: false}
  ],
  yAxis: [
    yAx(0, AX), yAx(1, '#8a8a8a'),
    {type: 'value', gridIndex: 2, position: 'right', min: cbMin, max: cbMax, interval: 5, z: 10,
      axisLine: {show: false},
      axisTick: {show: true, inside: true, length: 4, customValues: cbTicks, lineStyle: {color: AX}},
      axisLabel: {color: AX, fontSize: 16, fontFamily: FONT, margin: 5, customValues: cbTicks},
      splitLine: {show: false}}
  ],
  visualMap: [{
    type: 'continuous', min: cbMin, max: cbMax, seriesIndex: [], calculable: false,
    orient: 'vertical', left: 809, top: 34, itemWidth: 18, itemHeight: 378, padding: 0,
    text: null, showLabel: false, hoverLink: false, inRange: {color: cmap}, z: 1
  }],
  legend: {
    data: ['MD08', 'GNIP SH', 'GNIP NH'],
    orient: 'vertical', left: 78, top: 43,
    itemWidth: 26, itemHeight: 7, itemGap: 4, icon: 'circle',
    padding: [4, 6, 4, 7],
    borderColor: AX, borderWidth: 1, backgroundColor: '#ffffff',
    textStyle: {fontSize: 15, lineHeight: 15, color: '#000', fontFamily: FONT},
    selectedMode: false
  },
  graphic: [
    {type: 'text', x: 238, y: 22, z: 100,
      style: {text: 'a) Observations', fontSize: 18.5, fontWeight: 'bold', fontFamily: FONT, fill: '#000', align: 'center', verticalAlign: 'middle'}},
    {type: 'text', x: 655.5, y: 22, z: 100,
      style: {text: 'b) SWIM Results', fontSize: 18.5, fontWeight: 'bold', fontFamily: FONT, fill: '#000', align: 'center', verticalAlign: 'middle'}},
    {type: 'rect', z: 100, shape: {x: 809.5, y: 34.5, width: 17, height: 377},
      style: {fill: 'none', stroke: '#555', lineWidth: 1}}
  ],
  series: series
};
chart.setOption(option);
</script>
</body></html>
